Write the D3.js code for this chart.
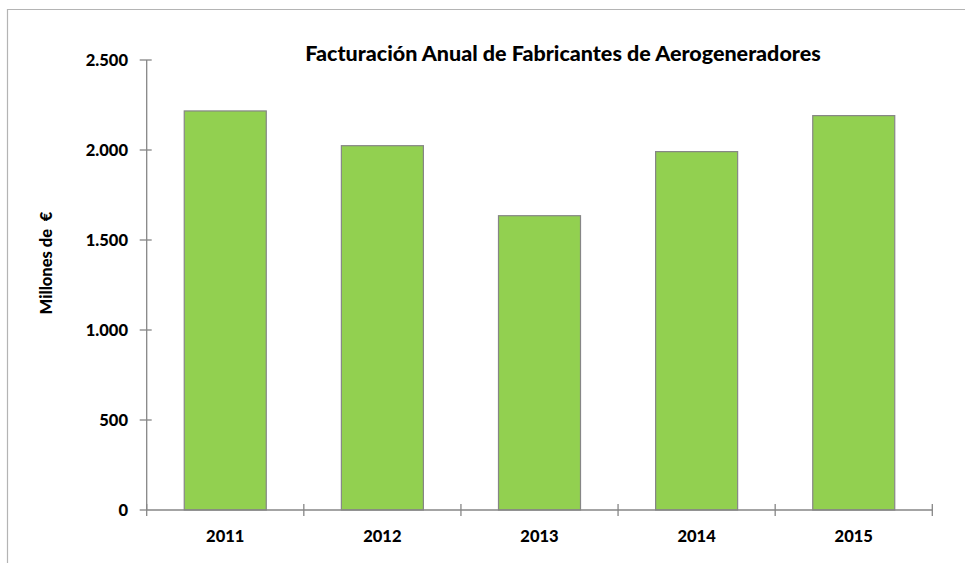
<!DOCTYPE html>
<html>
<head>
<meta charset="utf-8">
<script src="https://cdn.jsdelivr.net/npm/d3@7"></script>
<style>
  body { margin: 0; background: #fff; }
  text { font-family: Lato, "Open Sans", sans-serif; font-weight: 900; fill: #000; }
</style>
</head>
<body>
<div id="chart"></div>
<script>
// Facturación anual, millones de euros
const years = ["2011", "2012", "2013", "2014", "2015"];
const revenue = [2217, 2024, 1635, 1991, 2191];
const yTicks = [0, 500, 1000, 1500, 2000, 2500];

const W = 965, H = 563;
const svg = d3.select("#chart").append("svg").attr("width", W).attr("height", H);

// chart frame (only left and top edges are visible in the crop)
svg.append("path")
  .attr("d", `M7.5,${H} V9.5 H${W}`)
  .attr("fill", "none").attr("stroke", "#b4b4b4").attr("stroke-width", 1.2);

const x0 = 146.7, x1 = 932.3, yBottom = 510, yTop = 60;

const x = d3.scaleBand().domain(years).range([x0, x1]).paddingInner(0.478).paddingOuter(0.239);
const y = d3.scaleLinear().domain([0, 2500]).range([yBottom, yTop]);
const fmt = d3.formatLocale({ decimal: ",", thousands: ".", grouping: [3], currency: ["", "€"] }).format(",d");

// bars
svg.append("g").selectAll("rect").data(revenue).enter().append("rect")
  .attr("x", (d, i) => x(years[i]))
  .attr("y", d => y(d))
  .attr("width", x.bandwidth())
  .attr("height", d => yBottom - y(d))
  .attr("fill", "#92d050")
  .attr("stroke", "#868686").attr("stroke-width", 1.2);

const axisColor = "#868686";

// y axis
const yAxis = svg.append("g");
yAxis.append("line").attr("x1", x0).attr("x2", x0).attr("y1", y(2500)).attr("y2", yBottom)
  .attr("stroke", axisColor).attr("stroke-width", 1.3);
yAxis.selectAll(".tick").data(yTicks).enter().append("line")
  .attr("x1", x0 - 7).attr("x2", d => d === 0 ? x0 : x0 + 5)
  .attr("y1", d => y(d)).attr("y2", d => y(d))
  .attr("stroke", axisColor).attr("stroke-width", 1.3);
yAxis.selectAll("text").data(yTicks).enter().append("text")
  .attr("x", 128).attr("y", d => y(d)).attr("dy", "0.36em")
  .attr("text-anchor", "end").attr("font-size", "16.5px")
  .text(d => fmt(d));

// x axis
const xAxis = svg.append("g");
xAxis.append("line").attr("x1", x0).attr("x2", x1).attr("y1", yBottom).attr("y2", yBottom)
  .attr("stroke", axisColor).attr("stroke-width", 1.3);
const bounds = years.map(yr => x(yr) - x.step() * x.paddingOuter()).concat([x1]);
xAxis.selectAll(".tick").data(bounds).enter().append("line")
  .attr("x1", d => d).attr("x2", d => d)
  .attr("y1", yBottom - 6).attr("y2", yBottom + 6)
  .attr("stroke", axisColor).attr("stroke-width", 1.3);
xAxis.selectAll("text").data(years).enter().append("text")
  .attr("x", d => x(d) + x.bandwidth() / 2).attr("y", 542)
  .attr("text-anchor", "middle").attr("font-size", "16.5px")
  .text(d => d);

// y axis title
svg.append("text")
  .attr("transform", "translate(52,263) rotate(-90)")
  .attr("text-anchor", "middle").attr("font-size", "16.5px")
  .style("white-space", "pre")
  .text("Millones de  €");

// title
svg.append("text")
  .attr("x", 563).attr("y", 61)
  .attr("text-anchor", "middle").attr("font-size", "21.5px")
  .text("Facturación Anual de Fabricantes de Aerogeneradores");
</script>
</body>
</html>
